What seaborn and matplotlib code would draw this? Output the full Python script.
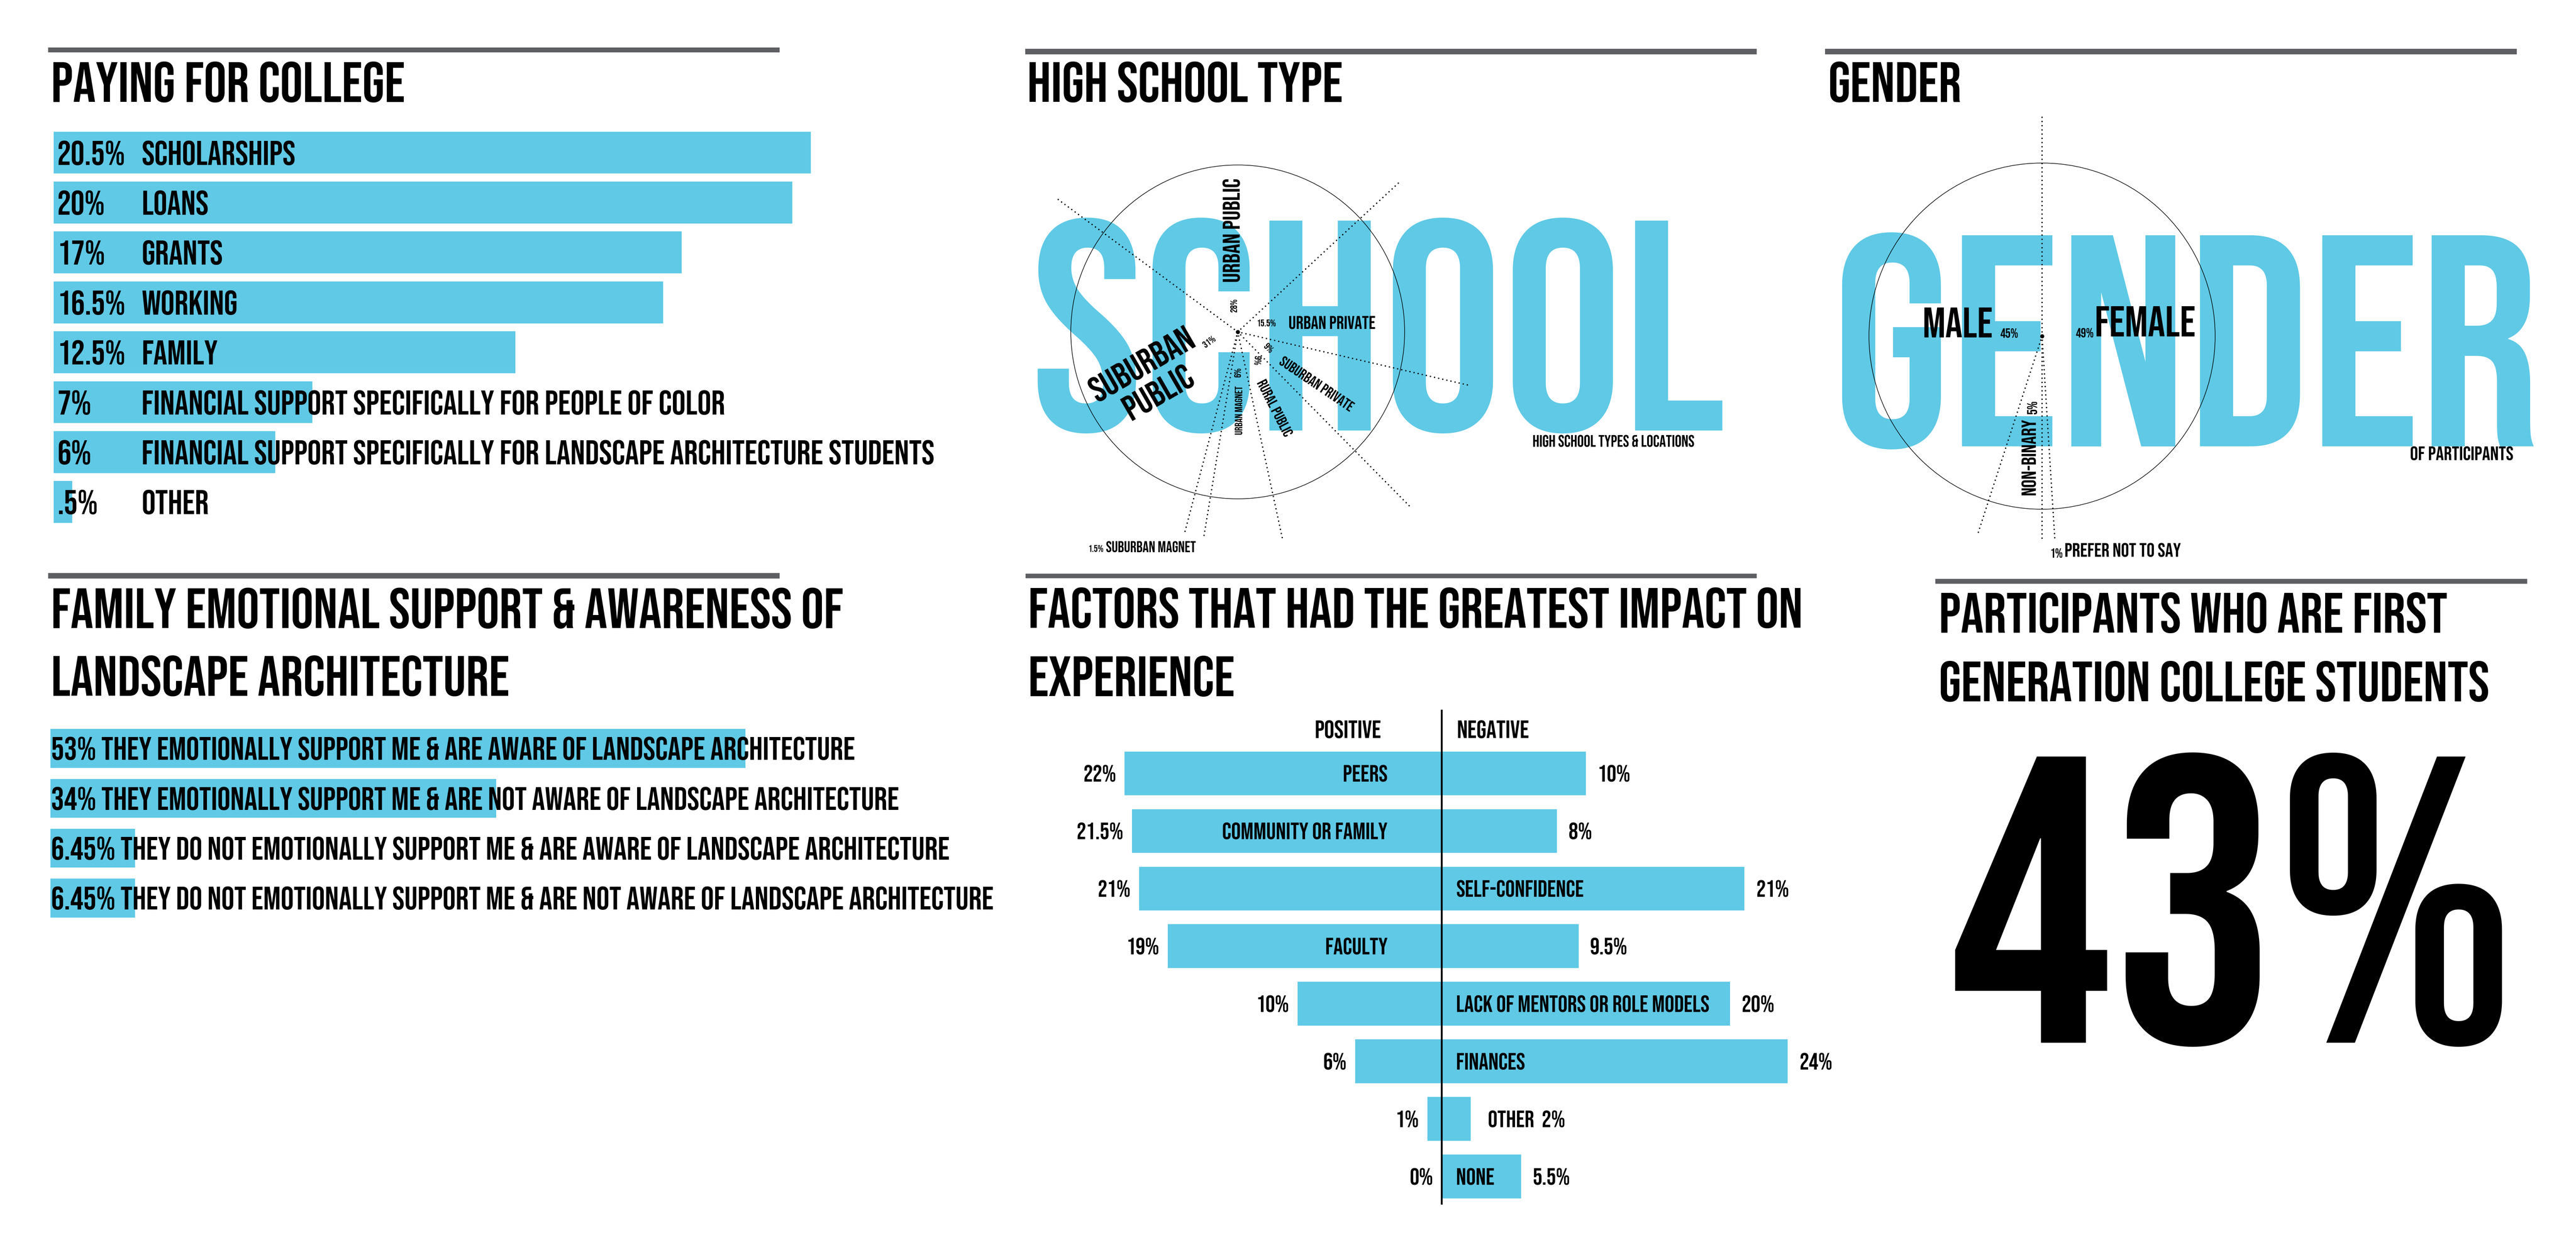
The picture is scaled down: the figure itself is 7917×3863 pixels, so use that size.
import numpy as np
import pandas as pd
import seaborn as sns
import matplotlib

matplotlib.use("Agg")
import matplotlib.pyplot as plt
from matplotlib import patches, font_manager

W, H, DPI = 7917, 3863, 100
BLUE = "#5FC9E6"
GREY = "#5E5F63"

# -------------------------------------------------------------------------
# Data

PAY_SOURCES = [
    "SCHOLARSHIPS",
    "LOANS",
    "GRANTS",
    "WORKING",
    "FAMILY",
    "FINANCIAL SUPPORT SPECIFICALLY FOR PEOPLE OF COLOR",
    "FINANCIAL SUPPORT SPECIFICALLY FOR LANDSCAPE ARCHITECTURE STUDENTS",
    "OTHER",
]
PAY_SHARES = [20.5, 20, 17, 16.5, 12.5, 7, 6, 0.5]

FAMILY_ANSWERS = [
    "THEY EMOTIONALLY SUPPORT ME & ARE AWARE OF LANDSCAPE ARCHITECTURE",
    "THEY EMOTIONALLY SUPPORT ME & ARE NOT AWARE OF LANDSCAPE ARCHITECTURE",
    "THEY DO NOT EMOTIONALLY SUPPORT ME & ARE AWARE OF LANDSCAPE ARCHITECTURE",
    "THEY DO NOT EMOTIONALLY SUPPORT ME & ARE NOT AWARE OF LANDSCAPE ARCHITECTURE",
]
FAMILY_SHARES = [53, 34, 6.45, 6.45]

SCHOOL_TYPES = [
    "URBAN PUBLIC",
    "SUBURBAN PUBLIC",
    "SUBURBAN MAGNET",
    "URBAN MAGNET",
    "RURAL PUBLIC",
    "SUBURBAN PRIVATE",
    "URBAN PRIVATE",
]
SCHOOL_SHARES = [28, 31, 1.5, 6, 9, 9, 15.5]

GENDERS = ["MALE", "NON-BINARY", "PREFER NOT TO SAY", "FEMALE"]
GENDER_SHARES = [45, 5, 1, 49]

FACTORS = [
    "PEERS",
    "COMMUNITY OR FAMILY",
    "SELF-CONFIDENCE",
    "FACULTY",
    "LACK OF MENTORS OR ROLE MODELS",
    "FINANCES",
    "OTHER",
    "NONE",
]
FACTOR_POSITIVE = [22, 21.5, 21, 19, 10, 6, 1, 0]
FACTOR_NEGATIVE = [10, 8, 21, 9.5, 20, 24, 2, 5.5]

FIRST_GEN_SHARE = 43

# -------------------------------------------------------------------------
# Fonts

sns.set_style("white")
_have = {f.name for f in font_manager.fontManager.ttflist}
NARROW = next(
    (
        f
        for f in ["Bebas Neue", "Oswald", "Roboto Condensed", "Liberation Sans Narrow"]
        if f in _have
    ),
    "DejaVu Sans",
)
plt.rcParams["font.family"] = [NARROW, "DejaVu Sans"]
plt.rcParams["text.color"] = "black"
CAP = 0.70

fig = plt.figure(figsize=(W / DPI, H / DPI), dpi=DPI)
fig.patch.set_facecolor("white")
R = fig.canvas.get_renderer()


def px_axes(x0, y0, x1, y1):
    ax = fig.add_axes([x0 / W, 1 - y1 / H, (x1 - x0) / W, (y1 - y0) / H])
    ax.patch.set_alpha(0)
    return ax


def pt(cap):
    # cap height in pixels -> font size in points
    return cap / CAP * 72 / DPI


def pct(v, trim=False):
    s = f"{v:g}"
    if trim and s.startswith("0."):
        s = s[1:]
    return s + "%"


def label(ax, x, y, s, cap, width=None, allow=1.1, **kw):
    kw.setdefault("va", "center_baseline")
    kw.setdefault("fontweight", "bold")
    kw.setdefault("fontstretch", "condensed")
    kw.setdefault("color", "black")
    rot = kw.pop("rotation", 0)
    t = ax.text(x, y, s, fontsize=pt(cap), **kw)
    if width:
        w = t.get_window_extent(renderer=R).width
        if w > width * allow:
            t.set_fontsize(pt(cap) * width * allow / w)
    t.set_rotation(rot)
    return t


def fit_group(texts, widths, allow):
    scale = min(
        [1.0]
        + [allow * w / t.get_window_extent(renderer=R).width for t, w in zip(texts, widths)]
    )
    for t in texts:
        t.set_fontsize(t.get_fontsize() * scale)
    return scale


# -------------------------------------------------------------------------
# Background layer: rules, headings, giant words

bg = fig.add_axes([0, 0, 1, 1])
bg.set_xlim(0, W)
bg.set_ylim(H, 0)
bg.axis("off")

RULES = [
    (148, 146, 2396, 161),
    (3151, 150, 5399, 167),
    (5609, 150, 7735, 167),
    (148, 1761, 2396, 1778),
    (3152, 1763, 5399, 1777),
    (5948, 1779, 7767, 1794),
]
for x0, y0, x1, y1 in RULES:
    bg.add_patch(patches.Rectangle((x0, y0), x1 - x0, y1 - y0, color=GREY, lw=0))

TITLES = [
    (157, 313, "PAYING FOR COLLEGE", 1075),
    (3157, 313, "HIGH SCHOOL TYPE", 966),
    (5618, 313, "GENDER", 408),
    (157, 1930, "FAMILY EMOTIONAL SUPPORT & AWARENESS OF", 2424),
    (157, 2138, "LANDSCAPE ARCHITECTURE", 1416),
    (3160, 1929, "FACTORS THAT HAD THE GREATEST IMPACT ON", 2368),
    (3160, 2139, "EXPERIENCE", 637),
    (5959, 1944, "PARTICIPANTS WHO ARE FIRST", 1558),
    (5959, 2155, "GENERATION COLLEGE STUDENTS", 1686),
]
title_texts = [label(bg, x, y, s, 122, ha="left", va="baseline") for x, y, s, _ in TITLES]
fit_group(title_texts, [t[3] for t in TITLES], 1.12)

label(bg, 3169, 1323, "SCHOOL", 645, width=2041, allow=1.15,
      ha="left", va="baseline", color=BLUE)
label(bg, 5631, 1372, "GENDER", 648, width=2090, allow=1.08,
      ha="left", va="baseline", color=BLUE)
label(bg, 5208, 1355, "HIGH SCHOOL TYPES & LOCATIONS", 35, width=566, ha="right")
label(bg, 7725, 1393, "OF PARTICIPANTS", 43, width=315, ha="right")

label(bg, 5989, 3204, pct(FIRST_GEN_SHARE), 879, width=1688, allow=1.1,
      ha="left", va="baseline")

# -------------------------------------------------------------------------
# Paying for college

PAY_X0, PAY_PPU, PAY_Y0, PAY_ROW = 165, 113.5, 469, 153.4
n = len(PAY_SOURCES)
ax = px_axes(PAY_X0, PAY_Y0 - PAY_ROW / 2, PAY_X0 + 24 * PAY_PPU, PAY_Y0 + (n - 0.5) * PAY_ROW)
sns.barplot(x=PAY_SHARES, y=PAY_SOURCES, orient="h", color=BLUE, saturation=1,
            width=0.84, linewidth=0, errorbar=None, ax=ax)
ax.set_xlim(0, 24)
ax.set_ylim(n - 0.5, -0.5)
ax.axis("off")
pay_texts = []
for i, (src, v) in enumerate(zip(PAY_SOURCES, PAY_SHARES)):
    pay_texts.append(label(ax, 0.1, i, pct(v, trim=True), 74, ha="left"))
    pay_texts.append(label(ax, 2.38, i, src, 74, ha="left"))
longest = max(pay_texts, key=lambda t: t.get_window_extent(renderer=R).width)
fit_group([longest], [2583], 1.08)
for t in pay_texts:
    t.set_fontsize(longest.get_fontsize())

# -------------------------------------------------------------------------
# Family emotional support

FAM_X0, FAM_PPU, FAM_Y0, FAM_ROW = 155, 40.3, 2300, 153.3
n = len(FAMILY_ANSWERS)
ax = px_axes(FAM_X0, FAM_Y0 - FAM_ROW / 2, FAM_X0 + 75 * FAM_PPU, FAM_Y0 + (n - 0.5) * FAM_ROW)
sns.barplot(x=FAMILY_SHARES, y=FAMILY_ANSWERS, orient="h", color=BLUE, saturation=1,
            width=0.78, linewidth=0, errorbar=None, ax=ax)
ax.set_xlim(0, 75)
ax.set_ylim(n - 0.5, -0.5)
ax.axis("off")
fam_texts = [
    label(ax, 0.05, i, f"{pct(v)} {a}", 70, ha="left")
    for i, (a, v) in enumerate(zip(FAMILY_ANSWERS, FAMILY_SHARES))
]
fit_group(fam_texts, [2455, 2589, 2740, 2879], 1.05)

# -------------------------------------------------------------------------
# Factors (diverging bars)

FAC_X0, FAC_PPU, FAC_Y0, FAC_ROW = 4431, 44.3, 2377, 176.9
n = len(FACTORS)
ax = px_axes(FAC_X0 - 26 * FAC_PPU, FAC_Y0 - 1.2 * FAC_ROW, FAC_X0 + 28 * FAC_PPU, FAC_Y0 + 7.6 * FAC_ROW)
fac_df = pd.DataFrame({
    "factor": FACTORS * 2,
    "side": ["positive"] * n + ["negative"] * n,
    "share": [-v for v in FACTOR_POSITIVE] + FACTOR_NEGATIVE,
})
sns.barplot(data=fac_df, x="share", y="factor", hue="side", order=FACTORS,
            palette={"positive": BLUE, "negative": BLUE}, dodge=False, legend=False,
            width=0.76, saturation=1, linewidth=0, errorbar=None, ax=ax)
ax.set_xlim(-26, 28)
ax.set_ylim(7.6, -1.2)
ax.axis("off")
ax.plot([0, 0], [-1.11, 7.49], color="black", lw=4, solid_capstyle="butt")
label(ax, -4.2, -0.77, "POSITIVE", 54, ha="right")
label(ax, 1.06, -0.77, "NEGATIVE", 54, ha="left")

fac_names = []
for i, name in enumerate(FACTORS):
    p, q = FACTOR_POSITIVE[i], FACTOR_NEGATIVE[i]
    label(ax, -p - 0.6, i, pct(p), 51, ha="right")
    if p > q:
        fac_names.append(label(ax, -3.75, i, name, 51, ha="right"))
        label(ax, q + 0.8, i, pct(q), 51, ha="left")
    elif q < 4:
        fac_names.append(label(ax, q + 1.2, i, f"{name}  {pct(q)}", 51, ha="left"))
    else:
        fac_names.append(label(ax, 1.0, i, name, 51, ha="left"))
        label(ax, q + 0.8, i, pct(q), 51, ha="left")
longest = max(fac_names, key=lambda t: t.get_window_extent(renderer=R).width)
s = fit_group([longest], [804], 1.03)
for t in fac_names:
    if t is not longest:
        t.set_fontsize(t.get_fontsize() * s)


# -------------------------------------------------------------------------
# Pie-style radial diagrams

def pie_panel(cx, cy, r, shares, start, lengths):
    ax = px_axes(cx - 1.5 * r, cy - 1.5 * r, cx + 1.5 * r, cy + 1.5 * r)
    wedges, _ = ax.pie(shares, startangle=start, radius=1,
                       wedgeprops=dict(fill=False, linewidth=0))
    ax.set_xlim(-1.5, 1.5)
    ax.set_ylim(-1.5, 1.5)
    ax.set_aspect("equal")
    ax.axis("off")
    ax.add_patch(patches.Circle((0, 0), 1, fill=False, ec="black", lw=1.3))
    for w, L in zip(wedges, lengths):
        a = np.deg2rad(w.theta1)
        ax.plot([0, L * np.cos(a)], [0, L * np.sin(a)], color="black", lw=3.2,
                linestyle=(0, (0.01, 2.9)), dash_capstyle="round")
    ax.plot([0], [0], "o", color="black", ms=8)
    return ax, wedges


def polar(w, r, dang):
    a = np.deg2rad((w.theta1 + w.theta2) / 2 + dang)
    return r * np.cos(a), r * np.sin(a)


# High school type
SCH_R = 513
SCH_LINES = [1.32, 1.34, 1.24, 1.25, 1.27, 1.47, 1.42]
SCH_NAME_R = [0.61, 0.595, 1.51, 0.47, 0.507, 0.566, 0.309]
SCH_NAME_DANG = [0.4, 7.6, -19.4, -0.6, -2.2, -3.9, -4.2]
SCH_NAME_ROT = [90, 30, 0, 90, -63, -34, 0]
SCH_NAME_HA = ["center", "center", "left", "center", "center", "center", "left"]
SCH_NAME_CAP = [70, 82, 34, 36, 40, 40, 44]
SCH_NAME_W = [321, 355, 277, 150, 190, 265, 268]
SCH_WRAP = [False, True, False, False, False, False, False]
SCH_LINE_PITCH = 100
SCH_PCT_R = [0.162, 0.182, 1.526, 0.242, 0.208, 0.209, 0.18]
SCH_PCT_DANG = [5.2, -1, -19.7, -1.8, 6, 1.8, 2.3]
SCH_PCT_ROT = [90, 36, 0, 90, -95, -45, 0]
SCH_PCT_HA = ["center", "center", "right", "center", "center", "center", "center"]

ax, wedges = pie_panel(3804, 1020, SCH_R, SCHOOL_SHARES, 42.8, SCH_LINES)
for i, (w, name) in enumerate(zip(wedges, SCHOOL_TYPES)):
    x, y = polar(w, SCH_NAME_R[i], SCH_NAME_DANG[i])
    rot = SCH_NAME_ROT[i]
    if SCH_WRAP[i]:
        words = name.split(" ")
        a = np.deg2rad(rot)
        perp = np.array([np.sin(a), -np.cos(a)]) * SCH_LINE_PITCH / SCH_R
        first = label(ax, x, y, words[0], SCH_NAME_CAP[i], width=SCH_NAME_W[i], allow=1.0,
                      ha="center")
        offsets = np.arange(len(words)) - (len(words) - 1) / 2
        first.set_position((x + offsets[0] * perp[0], y + offsets[0] * perp[1]))
        first.set_rotation(rot)
        first.set_rotation_mode("anchor")
        for k, word in enumerate(words[1:], start=1):
            ax.text(x + offsets[k] * perp[0], y + offsets[k] * perp[1], word,
                    fontsize=first.get_fontsize(), fontweight="bold", fontstretch="condensed",
                    color="black", ha="center", va="center_baseline",
                    rotation=rot, rotation_mode="anchor")
    else:
        label(ax, x, y, name, SCH_NAME_CAP[i], width=SCH_NAME_W[i], allow=1.0,
              ha=SCH_NAME_HA[i], rotation=rot, rotation_mode="anchor")
    x, y = polar(w, SCH_PCT_R[i], SCH_PCT_DANG[i])
    label(ax, x, y, pct(SCHOOL_SHARES[i]), 21, ha=SCH_PCT_HA[i],
          rotation=SCH_PCT_ROT[i], rotation_mode="anchor")

# Gender
GEN_LINES = [1.27, 1.2, 1.19, 1.18]
GEN_NAME_R = [0.295, 0.482, 1.242, 0.316]
GEN_NAME_DANG = [-6.5, -0.6, 4.2, 14.05]
GEN_NAME_ROT = [0, 90, 0, 0]
GEN_NAME_HA = ["right", "right", "left", "left"]
GEN_NAME_CAP = [100, 52, 44, 100]
GEN_NAME_W = [216, 235, 358, 311]
GEN_PCT_R = [0.243, 0.455, 1.259, 0.2995]
GEN_PCT_DANG = [4.6, 1.6, 3.7, 1.8]
GEN_PCT_ROT = [0, 90, 0, 0]
GEN_PCT_HA = ["left", "left", "right", "right"]
GEN_PCT_CAP = [28, 30, 28, 28]

ax, wedges = pie_panel(6276, 1033, 532, GENDER_SHARES, 90, GEN_LINES)
for i, (w, name) in enumerate(zip(wedges, GENDERS)):
    x, y = polar(w, GEN_NAME_R[i], GEN_NAME_DANG[i])
    label(ax, x, y, name, GEN_NAME_CAP[i], width=GEN_NAME_W[i], allow=1.0,
          ha=GEN_NAME_HA[i], rotation=GEN_NAME_ROT[i], rotation_mode="anchor")
    x, y = polar(w, GEN_PCT_R[i], GEN_PCT_DANG[i])
    label(ax, x, y, pct(GENDER_SHARES[i]), GEN_PCT_CAP[i], ha=GEN_PCT_HA[i],
          rotation=GEN_PCT_ROT[i], rotation_mode="anchor")

fig.savefig("out.png", dpi=DPI, facecolor="white")
